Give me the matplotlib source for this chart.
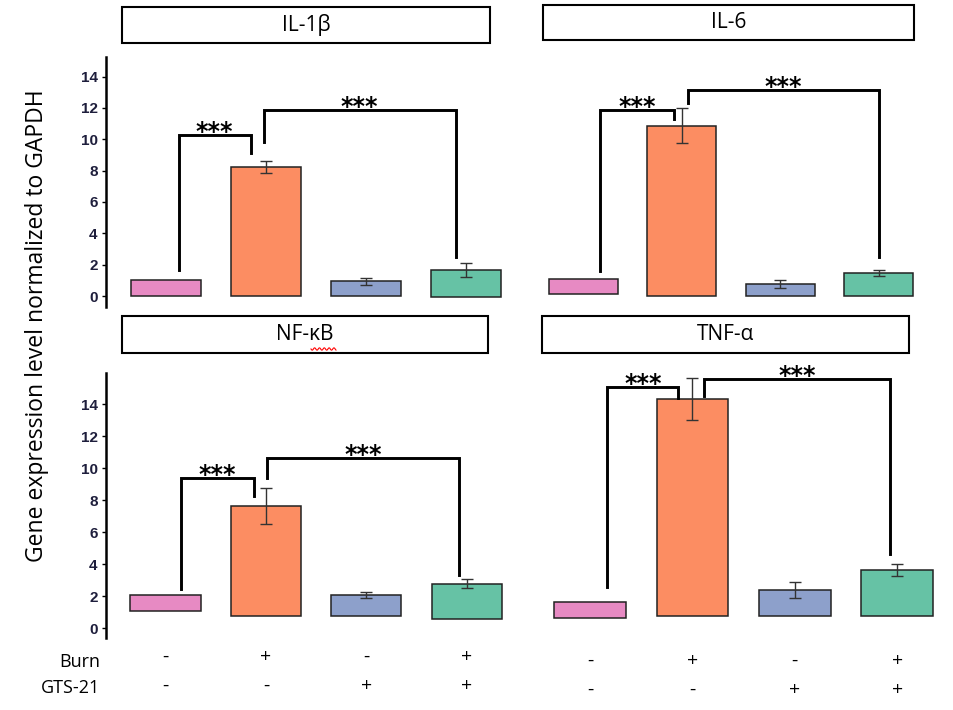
import numpy as np
import matplotlib.pyplot as plt
from matplotlib.patches import Rectangle
from matplotlib.lines import Line2D
from matplotlib.transforms import blended_transform_factory

# groups: control, burn, GTS-21, burn + GTS-21
groups = ['Control', 'Burn', 'GTS-21', 'Burn+GTS-21']
colors = ['#E78AC3', '#FC8D62', '#8DA0CB', '#66C2A5']
burn_signs = ['-', '+', '-', '+']
gts_signs = ['-', '-', '+', '+']
yticks = [0, 2, 4, 6, 8, 10, 12, 14]

# bar tops, bar bases (the figure's bars do not all start at 0) and error
il1b_top = [1.02, 8.25, 0.93, 1.66]
il1b_base = [0.0, 0.0, 0.0, -0.08]
il1b_err = [0.0, 0.38, 0.20, 0.47]

il6_top = [1.08, 10.87, 0.77, 1.49]
il6_base = [0.10, 0.0, 0.0, 0.0]
il6_err = [0.0, 1.13, 0.25, 0.19]

nfkb_top = [2.06, 7.64, 2.08, 2.79]
nfkb_base = [1.08, 0.77, 0.77, 0.56]
nfkb_err = [0.0, 1.12, 0.20, 0.29]

tnfa_top = [1.62, 14.33, 2.39, 3.64]
tnfa_base = [0.62, 0.77, 0.77, 0.77]
tnfa_err = [0.0, 1.32, 0.51, 0.36]

# significance brackets: (x left, x right, y left foot, y top, y right foot)
il1b_brackets = [(0.13, 0.85, 1.63, 10.3, 9.15), (0.98, 2.90, 9.8, 11.85, 2.5)]
il6_brackets = [(0.17, 0.92, 1.58, 11.85, 11.28), (1.07, 3.0, 12.3, 13.13, 2.51)]
nfkb_brackets = [(0.15, 0.88, 2.48, 9.41, 8.27), (1.01, 2.92, 9.41, 10.66, 3.33)]
tnfa_brackets = [(0.17, 0.86, 2.56, 15.1, 14.37), (1.11, 2.93, 14.52, 15.58, 4.64)]

W, H = 954, 710
fig = plt.figure(figsize=(W / 100, H / 100), dpi=100)
x = np.arange(len(groups))


def make_panel(left, right, top, bottom, c0, sp, zero, ppu, show_axis):
    """axes placed in pixel coords, x scale from first bar centre c0 and spacing sp"""
    ax = fig.add_axes([left / W, 1 - bottom / H, (right - left) / W, (bottom - top) / H])
    ax.set_xlim((left - c0) / sp, (right - c0) / sp)
    ax.set_ylim((zero - bottom) / ppu, (zero - top) / ppu)
    for s in ['top', 'right', 'bottom']:
        ax.spines[s].set_visible(False)
    ax.set_xticks([])
    ax.patch.set_alpha(0)
    if show_axis:
        ax.spines['left'].set_linewidth(1.8)
        ax.set_yticks(yticks, labels=[str(t) for t in yticks], fontweight='bold',
                      fontsize=11, color='#1e1e3c', family='Liberation Sans')
        ax.tick_params(axis='y', length=3, width=1, pad=3)
    else:
        ax.spines['left'].set_visible(False)
        ax.set_yticks([])
    return ax


def draw(ax, top, base, err, brackets):
    top = np.array(top)
    base = np.array(base)
    ax.bar(x, top - base, bottom=base, width=0.7, color=colors,
           edgecolor='#222222', linewidth=1.1, zorder=2)
    for i in range(len(x)):
        if err[i] > 0:
            ax.errorbar(x[i], top[i], yerr=err[i], fmt='none', ecolor='#333333',
                        elinewidth=1, capsize=4, capthick=1, zorder=3)
    for xl, xr, yl, yt, yr in brackets:
        ax.plot([xl, xl, xr, xr], [yl, yt, yt, yr], color='black', lw=2.1,
                solid_joinstyle='miter', zorder=4)
        ax.annotate('***', ((xl + xr) / 2, yt), xytext=(0, -3), textcoords='offset points',
                    ha='center', va='baseline', fontsize=17, fontweight='bold', zorder=5)


ax1 = make_panel(106, 520, 57, 307, 165.7, 100.0, 296, 15.67, True)
ax2 = make_panel(530, 940, 57, 307, 583.1, 98.5, 296, 15.67, False)
ax3 = make_panel(106, 520, 373, 638, 165.5, 100.4, 628.3, 16.0, True)
ax4 = make_panel(530, 940, 373, 638, 590.0, 102.4, 628.3, 16.0, False)

draw(ax1, il1b_top, il1b_base, il1b_err, il1b_brackets)
draw(ax2, il6_top, il6_base, il6_err, il6_brackets)
draw(ax3, nfkb_top, nfkb_base, nfkb_err, nfkb_brackets)
draw(ax4, tnfa_top, tnfa_base, tnfa_err, tnfa_brackets)

# strip boxes above each panel (pixel coords, top origin)
strips = [('IL-1\u03b2', 122, 490, 7, 43), ('IL-6', 543, 914, 5, 40),
          ('NF-\u03baB', 122, 488, 316, 353), ('TNF-\u03b1', 542, 909, 316, 353)]
for name, l, r, t, b in strips:
    fig.add_artist(Rectangle((l / W, 1 - b / H), (r - l) / W, (b - t) / H,
                             transform=fig.transFigure, fill=False,
                             edgecolor='black', linewidth=1.5))
    fig.text((l + r) / 2 / W, 1 - (t + b) / 2 / H, name, ha='center', va='center',
             fontsize=15, family='Open Sans')

# red spell-check squiggle under "kB"
sq_x = np.linspace(311, 336, 40)
sq_y = 349 + 1.2 * np.sin((sq_x - 311) * 1.3)
fig.add_artist(Line2D(sq_x / W, 1 - sq_y / H, transform=fig.transFigure,
                      color='red', lw=0.8))

fig.text(37 / W, 1 - 326 / H, 'Gene expression level normalized to GAPDH',
         rotation=90, ha='center', va='center', fontsize=16.5, family='Open Sans')

# treatment table under the bottom panels
fig.text(100 / W, 1 - 662 / H, 'Burn', ha='right', va='center', fontsize=13, family='Open Sans')
fig.text(100 / W, 1 - 688 / H, 'GTS-21', ha='right', va='center', fontsize=13, family='Open Sans')
for ax, dy in [(ax3, 0), (ax4, 4)]:
    tr = blended_transform_factory(ax.transData, fig.transFigure)
    for i in range(len(x)):
        fig.text(x[i], 1 - (657 + dy) / H, burn_signs[i], transform=tr,
                 ha='center', va='center', fontsize=14, family='Open Sans')
        fig.text(x[i], 1 - (686 + dy) / H, gts_signs[i], transform=tr,
                 ha='center', va='center', fontsize=14, family='Open Sans')

fig.savefig('out.png', dpi=100)
